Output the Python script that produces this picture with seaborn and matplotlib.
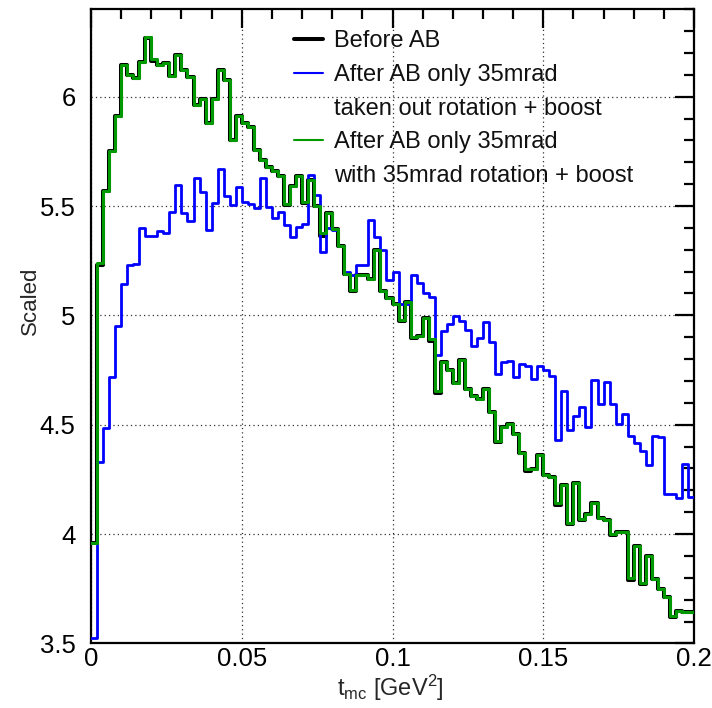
import numpy as np
import pandas as pd
import matplotlib
matplotlib.use("Agg")
import matplotlib.pyplot as plt
import seaborn as sns
from matplotlib.lines import Line2D
from matplotlib.ticker import FixedLocator, FixedFormatter, MultipleLocator

# ---------------- data ----------------
t_min, t_max, n_bins = 0.0, 0.2, 100

before_ab = [
    3.96, 5.23, 5.57, 5.75, 5.91, 6.145, 6.10, 6.085, 6.16, 6.27,
    6.165, 6.145, 6.155, 6.095, 6.19, 6.12, 6.09, 5.96, 5.99, 5.88,
    5.99, 6.12, 6.075, 5.80, 5.91, 5.88, 5.86, 5.755, 5.71, 5.68,
    5.66, 5.635, 5.505, 5.59, 5.637, 5.515, 5.62, 5.50, 5.365, 5.47,
    5.395, 5.315, 5.19, 5.11, 5.185, 5.185, 5.165, 5.30, 5.11, 5.08,
    5.05, 4.975, 5.06, 4.895, 4.905, 4.99, 4.885, 4.645, 4.787, 4.75,
    4.69, 4.795, 4.664, 4.633, 4.618, 4.664, 4.557, 4.42, 4.49, 4.505,
    4.457, 4.37, 4.29, 4.296, 4.36, 4.27, 4.26, 4.135, 4.225, 4.045,
    4.235, 4.065, 4.09, 4.14, 4.075, 4.065, 3.995, 4.01, 4.01, 3.79,
    3.945, 3.77, 3.90, 3.795, 3.75, 3.71, 3.62, 3.65, 3.643, 3.643,
]

after_taken_out = [
    3.526, 4.33, 4.486, 4.72, 4.95, 5.145, 5.23, 5.236, 5.40, 5.365,
    5.365, 5.385, 5.375, 5.474, 5.596, 5.47, 5.43, 5.627, 5.566, 5.39,
    5.515, 5.668, 5.546, 5.504, 5.588, 5.52, 5.51, 5.49, 5.626, 5.496,
    5.443, 5.473, 5.412, 5.36, 5.405, 5.417, 5.641, 5.55, 5.29, 5.40,
    5.39, 5.315, 5.20, 5.185, 5.23, 5.23, 5.437, 5.36, 5.30, 5.163,
    5.20, 5.054, 5.054, 5.186, 5.147, 5.10, 5.086, 4.817, 4.93, 4.96,
    4.995, 4.972, 4.935, 4.86, 4.897, 4.968, 4.877, 4.731, 4.788, 4.792,
    4.717, 4.778, 4.77, 4.71, 4.77, 4.748, 4.724, 4.428, 4.656, 4.478,
    4.54, 4.583, 4.488, 4.703, 4.594, 4.696, 4.594, 4.503, 4.55, 4.449,
    4.418, 4.38, 4.315, 4.45, 4.442, 4.183, 4.183, 4.165, 4.32, 4.168,
]

after_with_rotation = [
    3.96, 5.24, 5.57, 5.75, 5.91, 6.145, 6.10, 6.085, 6.16, 6.275,
    6.17, 6.145, 6.155, 6.095, 6.19, 6.12, 6.09, 5.96, 5.99, 5.88,
    5.99, 6.12, 6.075, 5.80, 5.91, 5.88, 5.86, 5.755, 5.71, 5.68,
    5.66, 5.635, 5.51, 5.59, 5.637, 5.52, 5.62, 5.50, 5.375, 5.47,
    5.395, 5.315, 5.19, 5.115, 5.185, 5.185, 5.165, 5.30, 5.11, 5.08,
    5.05, 4.98, 5.06, 4.90, 4.905, 4.99, 4.89, 4.656, 4.787, 4.75,
    4.69, 4.795, 4.664, 4.633, 4.618, 4.664, 4.557, 4.426, 4.49, 4.505,
    4.457, 4.37, 4.296, 4.296, 4.36, 4.27, 4.26, 4.14, 4.225, 4.05,
    4.235, 4.07, 4.09, 4.14, 4.075, 4.065, 4.0, 4.01, 4.01, 3.80,
    3.945, 3.775, 3.90, 3.795, 3.75, 3.71, 3.627, 3.65, 3.643, 3.643,
]

series_labels = ["Before AB",
                 "After AB only 35mrad",
                 "taken out rotation + boost",
                 "After AB only 35mrad",
                 "with 35mrad rotation + boost"]

x_tick_values = [0.0, 0.05, 0.1, 0.15, 0.2]
x_tick_labels = ["0", "0.05", "0.1", "0.15", "0.2"]
y_tick_values = [3.5, 4.0, 4.5, 5.0, 5.5, 6.0]
y_tick_labels = ["3.5", "4", "4.5", "5", "5.5", "6"]

# ---------------- style ----------------
sns.set_theme(style="white")
plt.rcParams['font.family'] = ['Liberation Sans', 'DejaVu Sans']
plt.rcParams['mathtext.fontset'] = 'custom'
plt.rcParams['mathtext.rm'] = 'Liberation Sans'
plt.rcParams['mathtext.it'] = 'Liberation Sans:italic'

bin_w = (t_max - t_min) / n_bins
centers = t_min + bin_w * (np.arange(n_bins) + 0.5)
df = pd.DataFrame({
    "t": centers,
    "before": before_ab,
    "taken_out": after_taken_out,
    "with_rot": after_with_rotation,
})

W, H = 712, 708
fig = plt.figure(figsize=(W / 100, H / 100), dpi=100)
ax_l, ax_r, ax_t, ax_b = 91, 694, 9.2, 643.4
ax = fig.add_axes([ax_l / W, 1 - ax_b / H, (ax_r - ax_l) / W, (ax_b - ax_t) / H])

c_black, c_blue, c_green = "#000000", "#0000ff", "#009a00"

common = dict(data=df, x="t", bins=n_bins, binrange=(t_min, t_max),
              element="step", fill=False, ax=ax)
sns.histplot(weights="before", color=c_black, linewidth=2.9, zorder=3, **common)
sns.histplot(weights="taken_out", color=c_blue, linewidth=2.0, zorder=4, **common)
sns.histplot(weights="with_rot", color=c_green, linewidth=2.2, zorder=5, **common)

ax.set_xlim(t_min, t_max)
ax.set_ylim(3.5, 6.4)

ax.xaxis.set_major_locator(FixedLocator(x_tick_values))
ax.xaxis.set_major_formatter(FixedFormatter(x_tick_labels))
ax.yaxis.set_major_locator(FixedLocator(y_tick_values))
ax.yaxis.set_major_formatter(FixedFormatter(y_tick_labels))
ax.xaxis.set_minor_locator(MultipleLocator(0.01))
ax.yaxis.set_minor_locator(MultipleLocator(0.1))

ax.tick_params(which="both", direction="in", top=True, right=True,
               width=1.6, color="black", labelcolor="black")
ax.tick_params(which="major", length=14)
ax.tick_params(which="minor", length=7)
ax.tick_params(axis="x", which="major", labelsize=18.5, pad=2.5)
ax.tick_params(axis="y", which="major", labelsize=18.5, pad=11)

for s in ax.spines.values():
    s.set_linewidth(1.6)
    s.set_color("black")
    s.set_visible(True)

ax.grid(True, which="major", linestyle=(0, (1, 2.5)), color="black",
        linewidth=0.9, alpha=0.8)
ax.set_axisbelow(True)

ax.set_xlabel(r"$\mathrm{t_{mc}\ [GeV^{2}]}$", fontsize=17)
ax.xaxis.set_label_coords((390 - ax_l) / (ax_r - ax_l), -(688 - ax_b) / (ax_b - ax_t))
ax.xaxis.label.set_verticalalignment("center")
ax.set_ylabel("Scaled", fontsize=16)
ax.yaxis.set_label_coords((30 - ax_l) / (ax_r - ax_l), (ax_b - 301) / (ax_b - ax_t))
ax.yaxis.label.set_verticalalignment("center")

handles = [Line2D([], [], color=c_black, lw=2.9),
           Line2D([], [], color=c_blue, lw=1.5),
           Line2D([], [], color="none", lw=0),
           Line2D([], [], color=c_green, lw=1.5),
           Line2D([], [], color="none", lw=0)]
leg = ax.legend(handles, series_labels, loc="upper left",
                bbox_to_anchor=((294 - ax_l) / (ax_r - ax_l), (ax_b - 30) / (ax_b - ax_t)),
                frameon=False, fontsize=17, borderpad=0, borderaxespad=0,
                handlelength=1.23, handletextpad=0.45, labelspacing=0.50)
for txt in leg.get_texts():
    txt.set_color("#111111")

fig.savefig("out.png", dpi=100)
